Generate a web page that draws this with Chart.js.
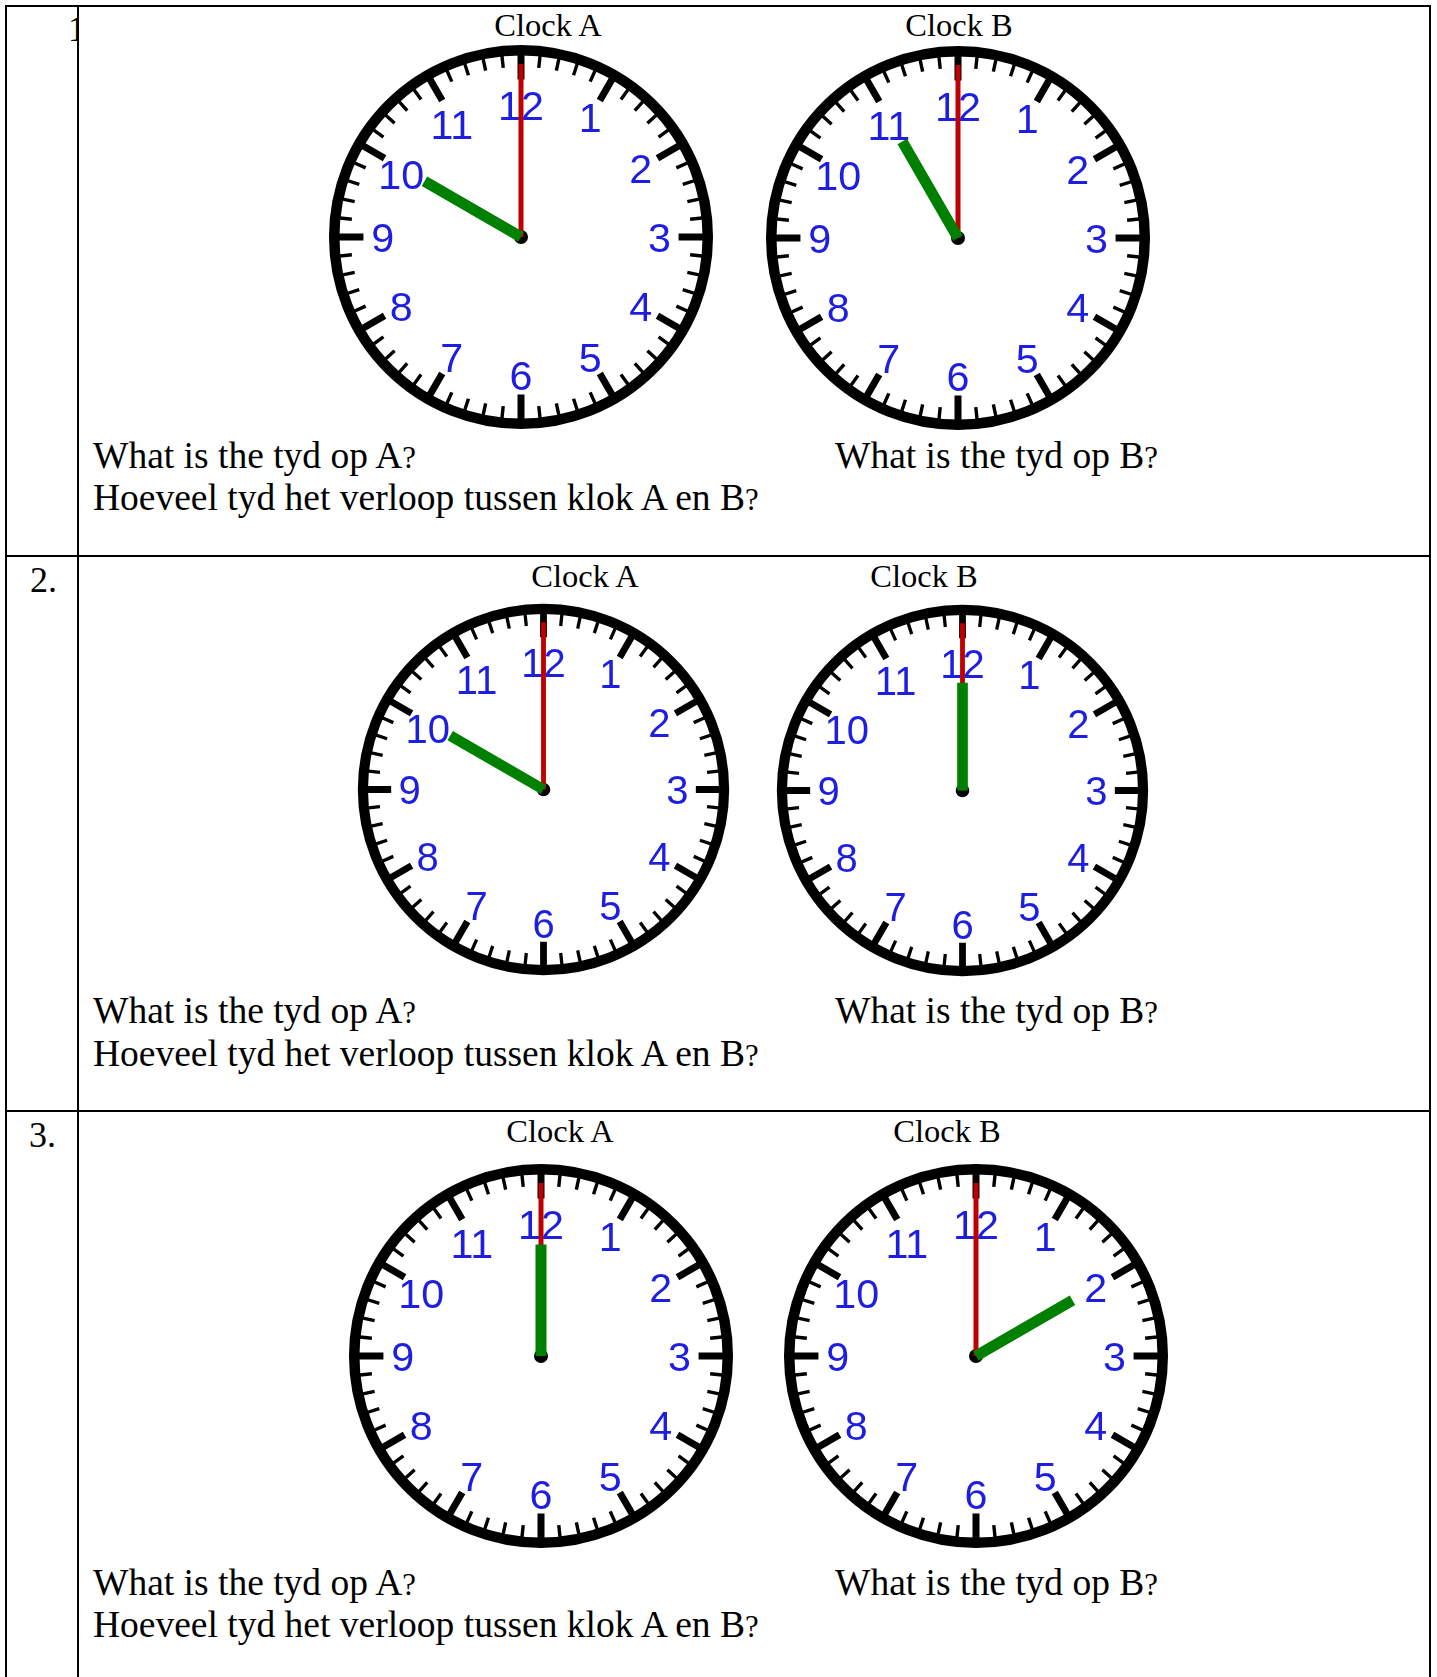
<!DOCTYPE html>
<html>
<head>
<meta charset="utf-8">
<script src="https://cdn.jsdelivr.net/npm/chart.js@4.4.0/dist/chart.umd.min.js"></script>
<style>
body { margin: 0; background: #fff; width: 1437px; height: 1677px; position: relative; overflow: hidden; }
.line { position: absolute; background: #000; }
.txt { position: absolute; font-family: "Liberation Serif", "Times New Roman", serif; color: #000; white-space: nowrap; line-height: 1; }
.q { font-size: 0.82em; }
canvas { position: absolute; }
</style>
</head>
<body>
<script>
// worksheet content
var rowLabels = ['1.', '2.', '3.'];
var clockTitles = ['Clock A', 'Clock B'];
var hourValues = [[10, 11], [10, 12], [12, 2]];
var minuteValues = [[0, 0], [0, 0], [0, 0]];
var dialNumbers = ['12', '1', '2', '3', '4', '5', '6', '7', '8', '9', '10', '11'];
var questionA = 'What is the tyd op A';
var questionB = 'What is the tyd op B';
var questionElapsed = 'Hoeveel tyd het verloop tussen klok A en B';

// layout, page pixels
var clockCenters = [[[521, 237], [958, 238]], [[544, 790], [963, 791]], [[541, 1356], [976, 1356]]];
var clockRadius = [[192, 192], [186, 186], [192, 192]];
var titleX = [[548, 959], [585, 924], [560, 947]];
var titleBase = [36, 587, 1142];
var labelX = [68, 30, 29];
var labelBase = [41, 592, 1147];
var questionBase = [[468, 510], [1023, 1066], [1595, 1637]];

function addLine(x, y, w, h) {
    var d = document.createElement('div');
    d.className = 'line';
    d.style.left = x + 'px'; d.style.top = y + 'px';
    d.style.width = w + 'px'; d.style.height = h + 'px';
    document.body.appendChild(d);
}

function addText(html, x, base, size, center, parent) {
    var d = document.createElement('div');
    d.className = 'txt';
    d.innerHTML = html;
    d.style.fontSize = size + 'px';
    d.style.left = x + 'px';
    d.style.top = (base - 0.8375 * size) + 'px';
    if (center) d.style.transform = 'translateX(-50%)';
    (parent || document.body).appendChild(d);
    return d;
}

// table grid
addLine(5, 5, 1426, 2);
addLine(5, 5, 2, 1672);
addLine(77, 5, 2, 1672);
addLine(1429, 5, 2, 1672);
addLine(5, 555, 1426, 2);
addLine(5, 1110, 1426, 2);

// row labels (the first one is cut off by the column line)
var clipBox = document.createElement('div');
clipBox.style.cssText = 'position:absolute;left:0;top:0;width:77px;height:80px;overflow:hidden;';
document.body.appendChild(clipBox);
addText(rowLabels[0], labelX[0], labelBase[0], 36, false, clipBox);
for (var r = 1; r < 3; r++) {
    addText(rowLabels[r], labelX[r], labelBase[r], 36, false);
}

// questions and titles
for (var r = 0; r < 3; r++) {
    addText(questionA + '<span class="q">?</span>', 93, questionBase[r][0], 37.5, false);
    addText(questionB + '<span class="q">?</span>', 835, questionBase[r][0], 37.5, false);
    addText(questionElapsed + '<span class="q">?</span>', 93, questionBase[r][1], 37.5, false);
    for (var c = 0; c < 2; c++) {
        addText(clockTitles[c], titleX[r][c], titleBase[r], 32.5, true);
    }
}

function dialPlugin(R) {
    return {
        id: 'dial',
        beforeDatasetsDraw: function (chart) {
            var ctx = chart.ctx;
            var xs = chart.scales.x, ys = chart.scales.y;
            var x0 = xs.getPixelForValue(0), y0 = ys.getPixelForValue(0);
            var k = R / 192;
            ctx.save();
            // outer ring
            ctx.beginPath();
            ctx.arc(x0, y0, xs.getPixelForValue(0.972) - x0, 0, Math.PI * 2);
            ctx.lineWidth = 10.5 * k;
            ctx.strokeStyle = '#000';
            ctx.stroke();
            // numbers
            var fs = 0.215 * R;
            ctx.font = fs + 'px "Liberation Sans", Arial, sans-serif';
            ctx.fillStyle = '#1e1ee0';
            ctx.textAlign = 'center';
            ctx.textBaseline = 'alphabetic';
            for (var i = 0; i < dialNumbers.length; i++) {
                var a = i * Math.PI / 6;
                var px = xs.getPixelForValue(Math.sin(a) * 0.72);
                var py = ys.getPixelForValue(Math.cos(a) * 0.72);
                if (dialNumbers[i].length > 1) py += 0.035 * R;
                ctx.fillText(dialNumbers[i], px, py + 0.358 * fs);
            }
            ctx.restore();
        }
    };
}

function tip(a, len) {
    return { x: Math.sin(a) * len, y: Math.cos(a) * len };
}

function makeClock(r, c) {
    var cx = clockCenters[r][c][0], cy = clockCenters[r][c][1];
    var R = clockRadius[r][c];
    var k = R / 192;
    var half = R * 1.02;
    var canvas = document.createElement('canvas');
    canvas.width = Math.round(2 * half);
    canvas.height = Math.round(2 * half);
    canvas.style.left = Math.round(cx - half) + 'px';
    canvas.style.top = Math.round(cy - half) + 'px';
    document.body.appendChild(canvas);

    var hourAngle = ((hourValues[r][c] % 12) + minuteValues[r][c] / 60) * Math.PI / 6;
    var minuteAngle = minuteValues[r][c] * Math.PI / 30;

    var hourTicks = [], minuteTicks = [];
    for (var i = 0; i < 60; i++) {
        var a = i * Math.PI / 30;
        var big = i % 5 === 0;
        var list = big ? hourTicks : minuteTicks;
        list.push(tip(a, 0.96), tip(a, big ? 0.82 : 0.885), { x: null, y: null });
    }

    new Chart(canvas, {
        type: 'scatter',
        data: {
            datasets: [
                { data: [{ x: 0, y: 0 }, tip(hourAngle, 0.58)], showLine: true, borderColor: '#008000', borderWidth: 11 * k, borderCapStyle: 'butt', pointRadius: 0 },
                { data: [{ x: 0, y: 0 }, tip(minuteAngle, 0.9)], showLine: true, borderColor: '#c00000', borderWidth: 5 * k, borderCapStyle: 'butt', pointRadius: 0 },
                { data: [{ x: 0, y: 0 }], pointRadius: 7 * k, backgroundColor: '#000', borderWidth: 0 },
                { data: hourTicks, showLine: true, spanGaps: false, borderColor: '#000', borderWidth: 7 * k, borderCapStyle: 'butt', pointRadius: 0 },
                { data: minuteTicks, showLine: true, spanGaps: false, borderColor: '#000', borderWidth: 3.4 * k, borderCapStyle: 'butt', pointRadius: 0 }
            ]
        },
        options: {
            responsive: false,
            animation: false,
            events: [],
            clip: false,
            layout: { padding: 0, autoPadding: false },
            plugins: { legend: { display: false }, tooltip: { enabled: false } },
            scales: {
                x: { type: 'linear', min: -1.02, max: 1.02, display: false },
                y: { type: 'linear', min: -1.02, max: 1.02, display: false }
            }
        },
        plugins: [dialPlugin(R)]
    });
}

for (var r = 0; r < 3; r++) {
    for (var c = 0; c < 2; c++) {
        makeClock(r, c);
    }
}
</script>
</body>
</html>
